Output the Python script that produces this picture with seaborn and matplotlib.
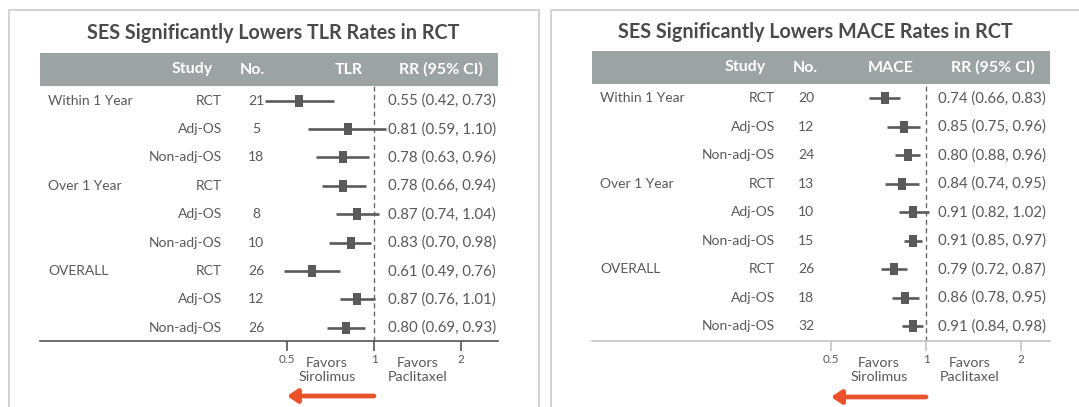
import numpy as np
import matplotlib
matplotlib.use('Agg')
import matplotlib.pyplot as plt
import matplotlib.transforms as mtransforms
from matplotlib.patches import Rectangle
from matplotlib.ticker import NullLocator
import seaborn as sns

# ─── 全局设置 ───
sns.set_style('white')
plt.rcParams['font.family'] = ['Lato', 'DejaVu Sans']

W, H = 1079, 407

# ─── 数据 ───
groups = ['Within 1 Year', '', '', 'Over 1 Year', '', '', 'OVERALL', '', '']
studies = ['RCT', 'Adj-OS', 'Non-adj-OS', 'RCT', 'Adj-OS', 'Non-adj-OS',
           'RCT', 'Adj-OS', 'Non-adj-OS']

tlr_n = ['21', '5', '18', '', '8', '10', '26', '12', '26']
tlr_rr = [0.55, 0.81, 0.78, 0.78, 0.87, 0.83, 0.61, 0.87, 0.80]
tlr_lo = [0.42, 0.59, 0.63, 0.66, 0.74, 0.70, 0.49, 0.76, 0.69]
tlr_hi = [0.73, 1.10, 0.96, 0.94, 1.04, 0.98, 0.76, 1.01, 0.93]
tlr_text = ['0.55 (0.42, 0.73)', '0.81 (0.59, 1.10)', '0.78 (0.63, 0.96)',
            '0.78 (0.66, 0.94)', '0.87 (0.74, 1.04)', '0.83 (0.70, 0.98)',
            '0.61 (0.49, 0.76)', '0.87 (0.76, 1.01)', '0.80 (0.69, 0.93)']

mace_n = ['20', '12', '24', '13', '10', '15', '26', '18', '32']
# 第3行按图中位置读取（文字标注与图形不一致）
mace_rr = [0.74, 0.85, 0.88, 0.84, 0.91, 0.91, 0.79, 0.86, 0.91]
mace_lo = [0.66, 0.75, 0.80, 0.74, 0.82, 0.85, 0.72, 0.78, 0.84]
mace_hi = [0.83, 0.96, 0.96, 0.95, 1.02, 0.97, 0.87, 0.95, 0.98]
mace_text = ['0.74 (0.66, 0.83)', '0.85 (0.75, 0.96)', '0.80 (0.88, 0.96)',
             '0.84 (0.74, 0.95)', '0.91 (0.82, 1.02)', '0.91 (0.85, 0.97)',
             '0.79 (0.72, 0.87)', '0.86 (0.78, 0.95)', '0.91 (0.84, 0.98)']

TEXT = '#595959'
MARK = '#5a5a5a'
HEAD = '#9ba4a2'
RED = '#e8532b'

# 方块标记（略高于宽）
rect_marker = [(-0.28, -0.5), (0.28, -0.5), (0.28, 0.5), (-0.28, 0.5)]


def fx(px):
    return px / W


def fy(py):
    return 1 - py / H


panels = [
    dict(title='SES Significantly Lowers TLR Rates in RCT', col='TLR',
         n=tlr_n, rr=tlr_rr, lo=tlr_lo, hi=tlr_hi, txt=tlr_text,
         box=(9, 9.5, 539), title_x=273, title_y=33,
         t0=40, t1=498, head=(53, 86), axis_y=341, one=374, k=87,
         row0=100.7, dy=28.4, spine='#555555',
         grp_x=48, study_x=222, n_x=256, rr_x=388,
         h_study=213, h_no=240, h_col=363, h_rr=399,
         fav_l=327, fav_r=418, arrow_y=396),
    dict(title='SES Significantly Lowers MACE Rates in RCT', col='MACE',
         n=mace_n, rr=mace_rr, lo=mace_lo, hi=mace_hi, txt=mace_text,
         box=(551, 9.5, 1090), title_x=815, title_y=32,
         t0=592, t1=1050, head=(51, 84), axis_y=341, one=926, k=95,
         row0=98.3, dy=28.5, spine='#c4c4c4',
         grp_x=600, study_x=775, n_x=806, rr_x=938,
         h_study=766, h_no=793, h_col=914, h_rr=951,
         fav_l=879, fav_r=970, arrow_y=397),
]

fig = plt.figure(figsize=(W / 100, H / 100), dpi=100)

for p in panels:
    # 外框
    bx0, by0, bx1 = p['box']
    fig.add_artist(Rectangle((fx(bx0), fy(H + 10)), fx(bx1) - fx(bx0), (H + 10 - by0) / H,
                             transform=fig.transFigure, fill=False,
                             ec='#cfcfcf', lw=1.3, zorder=0))
    fig.text(fx(p['title_x']), fy(p['title_y']), p['title'], ha='center', va='center',
             fontsize=14.2, fontweight='bold', color='#4a4a4a')

    # 表头
    htop, hbot = p['head']
    fig.add_artist(Rectangle((fx(p['t0']), fy(hbot)), fx(p['t1']) - fx(p['t0']),
                             (hbot - htop) / H, transform=fig.transFigure,
                             color=HEAD, lw=0, zorder=0))
    hy = fy((htop + hbot) / 2)
    hkw = dict(va='center', fontsize=11.5, fontweight='bold', color='white')
    fig.text(fx(p['h_study']), hy, 'Study', ha='right', **hkw)
    fig.text(fx(p['h_no']), hy, 'No.', ha='left', **hkw)
    fig.text(fx(p['h_col']), hy, p['col'], ha='right', **hkw)
    fig.text(fx(p['h_rr']), hy, 'RR (95% CI)', ha='left', **hkw)

    # 森林图坐标轴（横跨整个表格宽度）
    ax = fig.add_axes([fx(p['t0']), fy(p['axis_y']), fx(p['t1']) - fx(p['t0']),
                       (p['axis_y'] - hbot) / H])
    ax.set_facecolor('none')
    ax.set_xscale('log', base=2)
    ax.set_xlim(2 ** ((p['t0'] - p['one']) / p['k']), 2 ** ((p['t1'] - p['one']) / p['k']))
    ax.set_ylim((p['axis_y'] - p['row0']) / p['dy'], (hbot - p['row0']) / p['dy'])
    ax.set_xticks([0.5, 1, 2])
    ax.set_xticklabels(['0.5', '1', '2'])
    ax.xaxis.set_minor_locator(NullLocator())
    ax.set_yticks([])
    for s in ['top', 'left', 'right']:
        ax.spines[s].set_visible(False)
    ax.spines['bottom'].set_color(p['spine'])
    ax.spines['bottom'].set_linewidth(1.2)
    ax.tick_params(axis='x', bottom=True, direction='out', length=7.5, width=1.2,
                   color=p['spine'], labelsize=8.5, labelcolor=TEXT, pad=2)

    rows = np.arange(len(p['rr']))
    ax.axvline(1, color='#6a6a6a', lw=1, ls=(0, (3.5, 2.5)), zorder=1)
    ax.hlines(rows, p['lo'], p['hi'], color=MARK, lw=1.9, zorder=2)
    sns.scatterplot(x=p['rr'], y=rows, marker=rect_marker, s=85, color=MARK,
                    linewidth=0, ax=ax, zorder=3, legend=False)

    # 表格文字
    blend = mtransforms.blended_transform_factory(fig.transFigure, ax.transData)
    tkw = dict(va='center', fontsize=10, color=TEXT, transform=blend)
    for i in rows:
        ax.text(fx(p['grp_x']), i, groups[i], ha='left', **tkw)
        ax.text(fx(p['study_x']), i, studies[i], ha='right', **tkw)
        ax.text(fx(p['n_x']), i, p['n'][i], ha='center', **tkw)
        ax.text(fx(p['rr_x']), i, p['txt'][i], ha='left',
                **{**tkw, 'fontsize': 10.8})

    fkw = dict(ha='center', va='center', fontsize=10.3, color=TEXT, linespacing=1.25)
    fig.text(fx(p['fav_l']), fy(370), 'Favors\nSirolimus', **fkw)
    fig.text(fx(p['fav_r']), fy(370), 'Favors\nPaclitaxel', **fkw)

    # 红色箭头
    ay = H - p['arrow_y']
    ax.annotate('', xy=(0.5, ay), xytext=(1, ay),
                xycoords=('data', 'figure pixels'), textcoords=('data', 'figure pixels'),
                arrowprops=dict(arrowstyle='-|>,head_length=0.6,head_width=0.4',
                                lw=3.4, color=RED, shrinkA=0, shrinkB=0))

plt.savefig('out.png', dpi=100)
plt.close()
